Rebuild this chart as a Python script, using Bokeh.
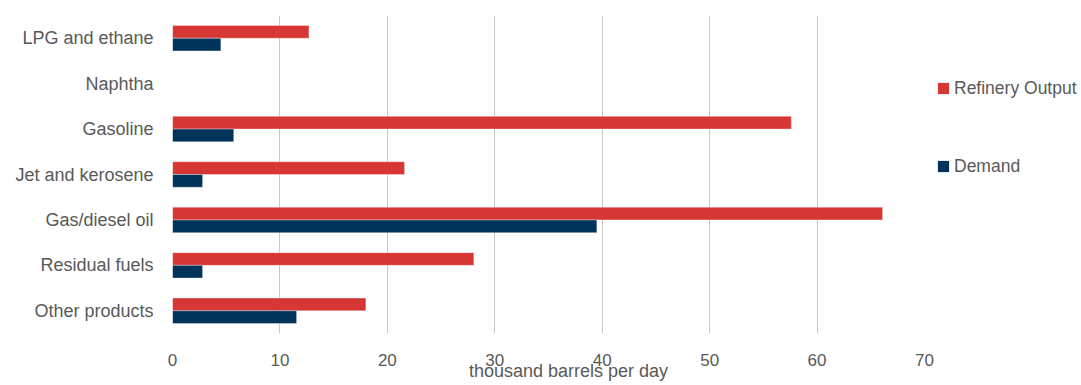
from bokeh.plotting import figure
from bokeh.models import FactorRange, FixedTicker, Legend, LegendItem, ColumnDataSource
from bokeh.layouts import row
from bokeh.transform import dodge
from bokeh.embed import file_html
from bokeh.resources import INLINE

products = ["LPG and ethane", "Naphtha", "Gasoline", "Jet and kerosene",
            "Gas/diesel oil", "Residual fuels", "Other products"]
refinery_output = [12.7, 0.0, 57.6, 21.6, 66.1, 28.05, 18.0]
demand = [4.5, 0.0, 5.7, 2.8, 39.5, 2.8, 11.55]
series_names = ["Refinery Output", "Demand"]
x_ticks = [0, 10, 20, 30, 40, 50, 60, 70]
x_title = "thousand barrels per day"

FONT = "Liberation Sans"
TXT = "#595959"
RED = "#D63634"
NAVY = "#003359"
COLORS = [RED, NAVY]

p = figure(width=936, height=384, output_backend="svg", toolbar_location=None,
           y_range=FactorRange(factors=list(reversed(products))),
           x_range=(0, 70),
           min_border_left=172, min_border_right=12, min_border_top=15, min_border_bottom=51)
p.outline_line_color = None
p.background_fill_color = "white"
p.border_fill_color = "white"

src = dict(cat=products, ref=refinery_output, dem=demand)
p.hbar(y=dodge("cat", 0.14, range=p.y_range), right="ref", left=0, height=0.28,
       source=src, fill_color=RED, line_color="white", line_alpha=0.35, line_width=1)
p.hbar(y=dodge("cat", -0.14, range=p.y_range), right="dem", left=0, height=0.28,
       source=src, fill_color=NAVY, line_color="white", line_alpha=0.35, line_width=1)

p.xaxis.ticker = FixedTicker(ticks=x_ticks)
p.xaxis.axis_line_color = None
p.xaxis.major_tick_line_color = None
p.xaxis.minor_tick_line_color = None
p.xaxis.major_tick_out = 0
p.xaxis.major_tick_in = 0
p.xaxis.major_label_standoff = 20
p.xaxis.major_label_text_font = FONT
p.xaxis.major_label_text_font_size = "17px"
p.xaxis.major_label_text_color = TXT
p.xaxis.axis_label = "\u00a0" * 8 + x_title
p.xaxis.axis_label_standoff = -8
p.xaxis.axis_label_text_font = FONT
p.xaxis.axis_label_text_font_size = "18px"
p.xaxis.axis_label_text_font_style = "normal"
p.xaxis.axis_label_text_color = TXT

p.yaxis.axis_line_color = None
p.yaxis.major_tick_line_color = None
p.yaxis.major_tick_out = 0
p.yaxis.major_tick_in = 0
p.yaxis.major_label_standoff = 19
p.yaxis.major_label_text_font = FONT
p.yaxis.major_label_text_font_size = "18px"
p.yaxis.major_label_text_color = TXT
p.yaxis.major_label_overrides = {"Residual fuels": "Residual fuels\u00a0\u00a0",
                                 "Other products": "Other products\u00a0\u00a0"}

p.ygrid.grid_line_color = None
p.xgrid.grid_line_color = "#c8c8c8"
p.xgrid.grid_line_width = 1

# legend panel (separate figure so that it is not clipped)
lg = figure(width=144, height=384, output_backend="svg", toolbar_location=None,
            x_range=(0, 1), y_range=(0, 1),
            min_border_left=0, min_border_right=0, min_border_top=0, min_border_bottom=0)
lg.axis.visible = False
lg.grid.visible = False
lg.outline_line_color = None
items = []
for name, col in zip(series_names, COLORS):
    r = lg.hbar(y="y", right="r", height=1, source=ColumnDataSource(dict(y=[0], r=[0])),
                fill_color=col, line_color=None, visible=False)
    items.append(LegendItem(label=name, renderers=[r]))
legend = Legend(items=items, location=(0, 156), orientation="vertical",
                glyph_width=14, glyph_height=14, label_height=22, spacing=56,
                label_standoff=4, padding=0, margin=0, click_policy="none",
                border_line_color=None, background_fill_alpha=0,
                label_text_font=FONT, label_text_font_size="17.5px", label_text_color=TXT)
lg.add_layout(legend, "center")

layout = row(p, lg)
open("out.html", "w").write(file_html(layout, INLINE))
